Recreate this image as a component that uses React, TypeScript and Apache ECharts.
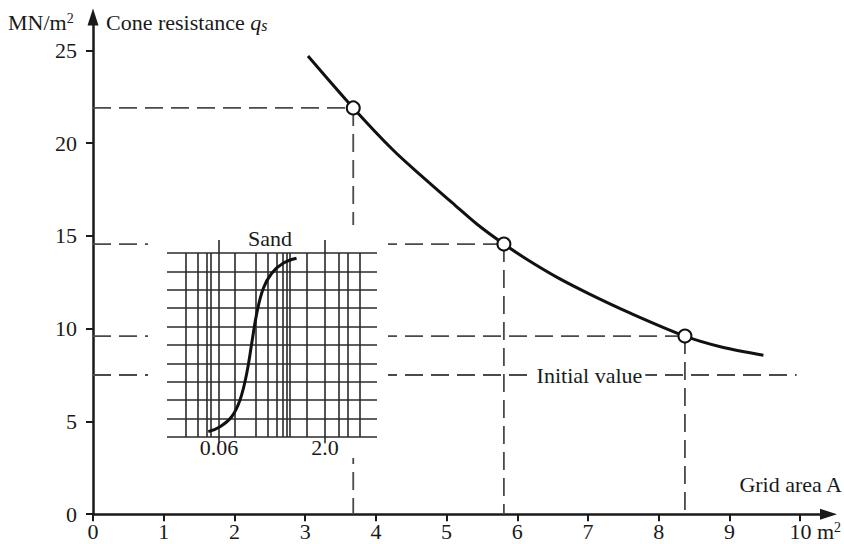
import React, { useEffect, useRef } from "react";
import * as echarts from "echarts";

// ---- main chart data ----
const curveX = [3.04, 3.68, 4.25, 4.64, 5.12, 5.44, 5.81, 6.15, 6.57, 7.03, 7.59, 8.37, 8.9, 9.48];
const curveY = [24.7, 21.9, 19.6, 18.25, 16.65, 15.6, 14.56, 13.7, 12.75, 11.85, 10.85, 9.6, 9.0, 8.57];
const pointX = [3.68, 5.81, 8.37];
const pointY = [21.9, 14.56, 9.6];
const initialValue = 7.5;
const initialLineEnd = 9.95;
const initialLabelX = 7.02;
const initialLabel = "Initial value";
const xTicks = [0, 1, 2, 3, 4, 5, 6, 7, 8, 9, 10];
const yTicks = [0, 5, 10, 15, 20, 25];

// ---- inset (sand grading) data ----
const insetMinorLines = [0.02, 0.03, 0.04, 0.046, 0.1, 0.2, 0.3, 0.4, 0.5, 0.56, 0.63, 1.1, 3.2, 4.3, 6.4];
const insetMajorLines = [0.06, 2.0];
const insetMajorLabels = ["0.06", "2.0"];
const insetRows = [0, 1, 2, 3, 4, 5, 6, 7, 8, 9, 10];
const sandX = [0.042, 0.062, 0.091, 0.12, 0.15, 0.177, 0.209, 0.26, 0.343, 0.5, 0.78];
const sandY = [0.29, 0.56, 1.1, 2.01, 3.46, 5.09, 6.72, 8.08, 8.9, 9.44, 9.71];

const FONT = "'Liberation Serif', 'Times New Roman', serif";
const INK = "#1a1a1a";
const DASH = "#4a4a4a";

const xMax = 10.4;
const yMax = 26.8;
const insetXMin = 0.0107;
const insetXMax = 11.2;
const insetYMin = -0.35;
const insetYMax = 10.7;

function dashed(data: number[][]) {
  return {
    type: "line",
    xAxisIndex: 0,
    yAxisIndex: 0,
    data,
    symbol: "none",
    silent: true,
    z: 2,
    lineStyle: { color: DASH, width: 1.8, type: [18, 8] },
  };
}

function buildOption() {
  const dashSeries: any[] = [];
  pointX.forEach((x, i) => {
    const y = pointY[i];
    dashSeries.push(dashed([[0, y], [x, y]]));
    dashSeries.push(dashed([[x, y], [x, 0]]));
  });
  dashSeries.push(dashed([[0, initialValue], [initialLineEnd, initialValue]]));

  const gridLines: any[] = [];
  insetRows.forEach((r) => {
    gridLines.push([{ coord: [insetXMin, r] }, { coord: [insetXMax, r] }]);
  });
  insetMinorLines.forEach((v) => {
    gridLines.push([{ coord: [v, 0] }, { coord: [v, 10] }]);
  });
  insetMajorLines.forEach((v) => {
    gridLines.push([{ coord: [v, insetYMin] }, { coord: [v, insetYMax] }]);
  });

  const labelStyle = { fontFamily: FONT, fontSize: 22, color: INK };

  return {
    animation: false,
    backgroundColor: "#fff",
    grid: [
      { left: 93, top: 17, width: xMax * 71.1, height: yMax * 18.55 },
      { left: 167, top: 240.1, width: 210, height: (insetYMax - insetYMin) * 18.4 },
    ],
    xAxis: [
      {
        type: "value",
        gridIndex: 0,
        min: 0,
        max: xMax,
        interval: 1,
        axisLine: {
          show: true,
          symbol: ["none", "triangle"],
          symbolSize: [11, 17],
          lineStyle: { color: INK, width: 2.5 },
        },
        axisTick: { show: true, length: 7, customValues: xTicks, lineStyle: { color: INK, width: 2 } },
        axisLabel: {
          customValues: xTicks,
          margin: 6,
          ...labelStyle,
          formatter: (v: number) => (v === 10 ? "{sp|}10{u| m}{sup|2}" : String(v)),
          rich: {
            sp: { width: 30, fontFamily: FONT, fontSize: 22 },
            u: { fontFamily: FONT, fontSize: 22, color: INK },
            sup: { fontFamily: FONT, fontSize: 14, color: INK, verticalAlign: "top", lineHeight: 14 },
          },
        },
        splitLine: { show: false },
      },
      { type: "log", gridIndex: 1, min: insetXMin, max: insetXMax, show: false },
    ],
    yAxis: [
      {
        type: "value",
        gridIndex: 0,
        min: 0,
        max: yMax,
        interval: 5,
        axisLine: {
          show: true,
          symbol: ["none", "triangle"],
          symbolSize: [11, 17],
          lineStyle: { color: INK, width: 2.5 },
        },
        axisTick: { show: true, length: 7, customValues: yTicks, lineStyle: { color: INK, width: 2 } },
        axisLabel: { customValues: yTicks, margin: 16, ...labelStyle },
        splitLine: { show: false },
      },
      { type: "value", gridIndex: 1, min: insetYMin, max: insetYMax, show: false },
    ],
    series: [
      ...dashSeries,
      {
        type: "line",
        xAxisIndex: 0,
        yAxisIndex: 0,
        data: curveX.map((x, i) => [x, curveY[i]]),
        smooth: 0.3,
        symbol: "none",
        silent: true,
        z: 3,
        lineStyle: { color: "#111", width: 3 },
      },
      {
        type: "scatter",
        xAxisIndex: 0,
        yAxisIndex: 0,
        data: pointX.map((x, i) => [x, pointY[i]]),
        symbol: "circle",
        symbolSize: 13,
        silent: true,
        z: 4,
        itemStyle: { color: "#fff", borderColor: "#111", borderWidth: 2, opacity: 1 },
      },
      {
        type: "scatter",
        xAxisIndex: 0,
        yAxisIndex: 0,
        data: [[initialLabelX, initialValue]],
        symbolSize: 1,
        silent: true,
        z: 6,
        itemStyle: { color: "#fff", opacity: 1 },
        label: {
          show: true,
          position: "inside",
          formatter: initialLabel,
          backgroundColor: "#fff",
          padding: [1, 3],
          ...labelStyle,
        },
      },
      {
        type: "line",
        xAxisIndex: 1,
        yAxisIndex: 1,
        data: [[insetXMin, 0]],
        symbol: "none",
        silent: true,
        z: 10,
        lineStyle: { opacity: 0 },
        markLine: {
          silent: true,
          z: 15,
          symbol: ["none", "none"],
          label: { show: false },
          emphasis: { disabled: true },
          animation: false,
          lineStyle: { type: "solid", color: "#2a2a2a", width: 1.6 },
          data: gridLines,
        },
      },
      {
        type: "line",
        xAxisIndex: 1,
        yAxisIndex: 1,
        data: sandX.map((x, i) => [x, sandY[i]]),
        smooth: 0.4,
        symbol: "none",
        silent: true,
        z: 20,
        lineStyle: { color: "#111", width: 3 },
      },
      {
        type: "scatter",
        xAxisIndex: 1,
        yAxisIndex: 1,
        data: insetMajorLines.map((x) => [x, insetYMin]),
        symbolSize: 1,
        silent: true,
        clip: false,
        z: 20,
        itemStyle: { color: "#fff", opacity: 1 },
        label: {
          show: true,
          position: "inside",
          offset: [0, 4],
          formatter: (p: any) => insetMajorLabels[p.dataIndex],
          ...labelStyle,
        },
      },
    ],
    graphic: [
      {
        type: "rect",
        z: 4.5,
        silent: true,
        shape: { x: 148, y: 225, width: 240, height: 233 },
        style: { fill: "#fff" },
      },
      {
        type: "text",
        z: 30,
        x: 270,
        y: 238,
        silent: true,
        style: { text: "Sand", fontFamily: FONT, fontSize: 22, fill: INK, align: "center", verticalAlign: "middle" },
      },
      {
        type: "text",
        z: 30,
        x: 8,
        y: 22,
        silent: true,
        style: {
          text: "{a|MN/m}{s|2}",
          verticalAlign: "middle",
          rich: {
            a: { fontFamily: FONT, fontSize: 22, fill: INK, color: INK },
            s: { fontFamily: FONT, fontSize: 14, fill: INK, color: INK, verticalAlign: "top", lineHeight: 14 },
          },
        },
      },
      {
        type: "text",
        z: 30,
        x: 106,
        y: 22,
        silent: true,
        style: {
          text: "{a|Cone resistance }{q|q}{s|s}",
          verticalAlign: "middle",
          rich: {
            a: { fontFamily: FONT, fontSize: 22, fill: INK, color: INK },
            q: { fontFamily: FONT, fontSize: 22, fontStyle: "italic", fill: INK, color: INK },
            s: { fontFamily: FONT, fontSize: 16, fontStyle: "italic", fill: INK, color: INK, verticalAlign: "bottom", lineHeight: 16, padding: [9, 0, 0, 0] },
          },
        },
      },
      {
        type: "text",
        z: 30,
        x: 842,
        y: 484,
        silent: true,
        style: { text: "Grid area A", fontFamily: FONT, fontSize: 22, fill: INK, align: "right", verticalAlign: "middle" },
      },
    ],
  };
}

export default function App() {
  const ref = useRef<HTMLDivElement>(null);
  useEffect(() => {
    const chart = echarts.init(ref.current!, null, { renderer: "svg" });
    chart.setOption(buildOption() as any);
    return () => chart.dispose();
  }, []);
  return (
    <div
      ref={ref}
      style={{ position: "fixed", left: 0, top: 0, width: 844, height: 544, background: "#fff" }}
    />
  );
}
